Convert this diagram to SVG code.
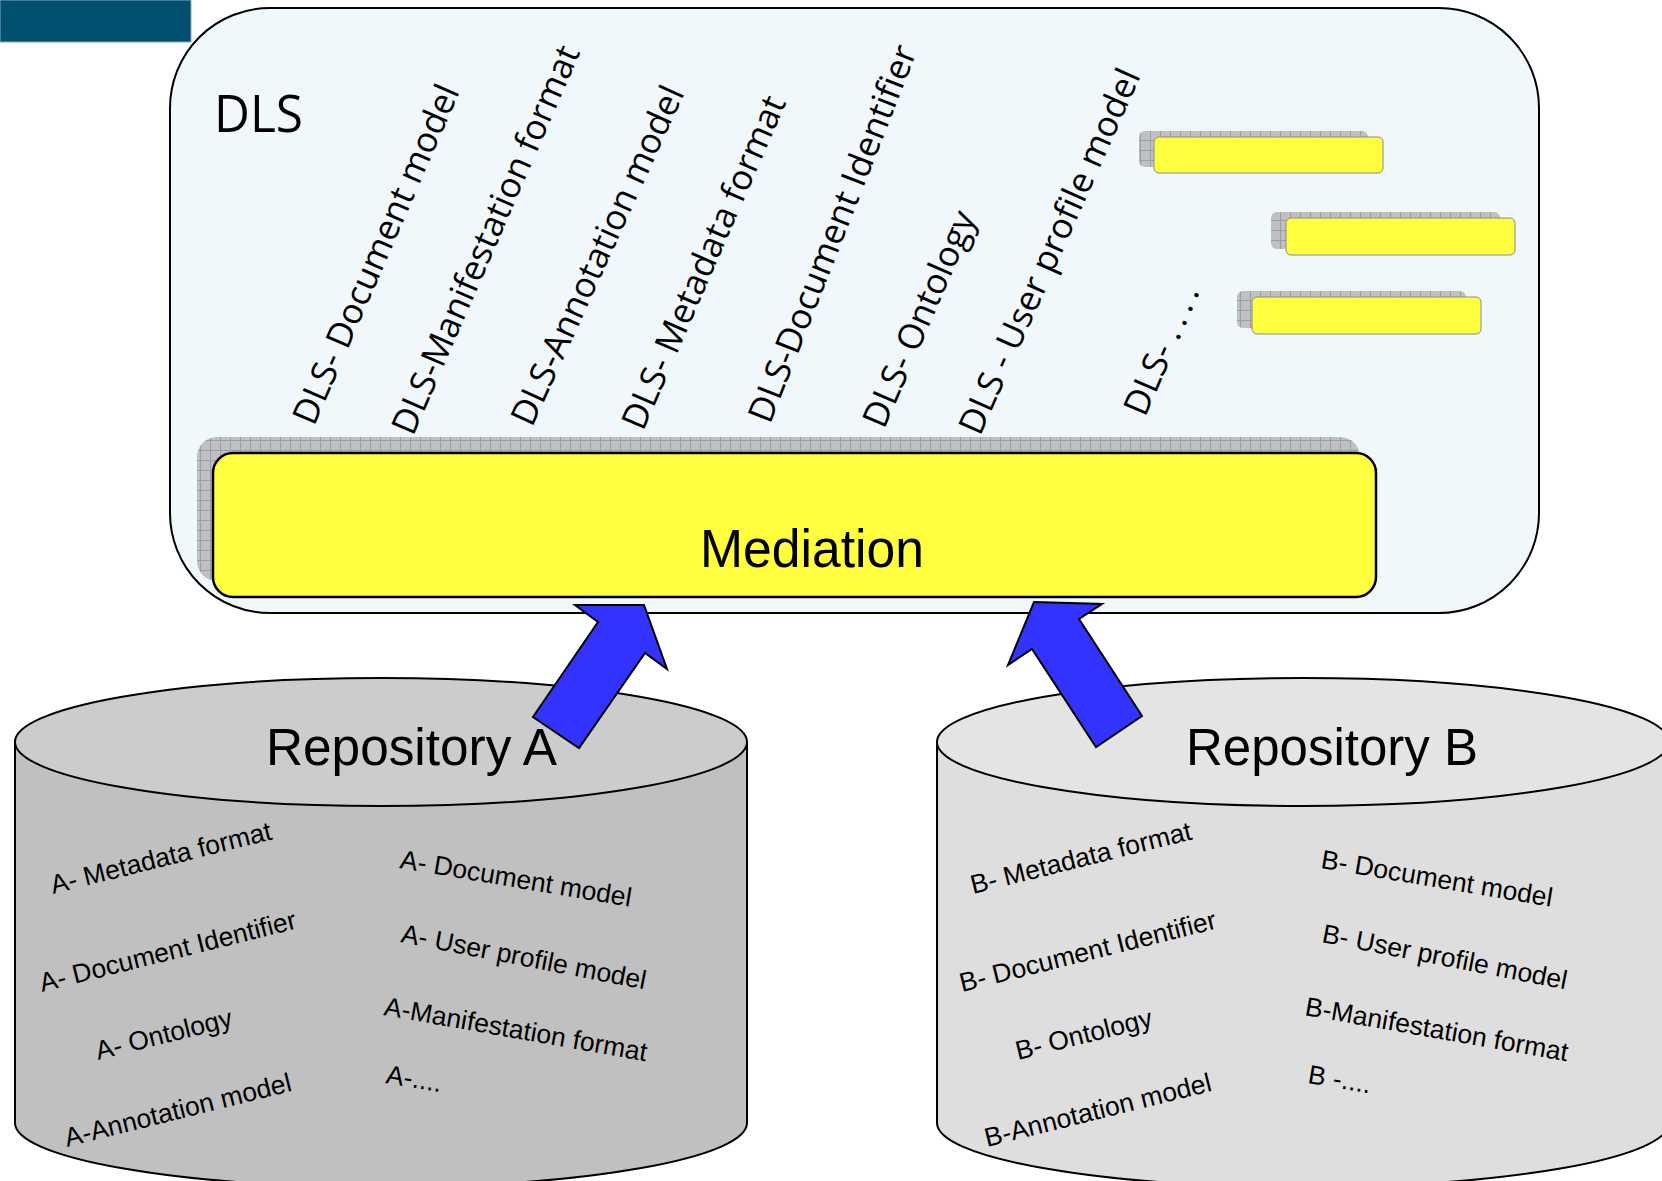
<svg xmlns="http://www.w3.org/2000/svg" width="1662" height="1181" viewBox="0 0 1662 1181">
  <defs>
    <!-- gridded grey fill used for the drop shadows -->
    <pattern id="grid" width="10" height="10" patternUnits="userSpaceOnUse">
      <rect width="10" height="10" fill="#BEC0C3"/>
      <path d="M0 0.5H10M0.5 0V10" stroke="#9C9EA0" stroke-width="1"/>
    </pattern>
    <style>
      .frame { fill: #F0F8FC; stroke: #000; stroke-width: 2; }
      .shadow { fill: url(#grid); }
      .mediation { fill: #FFFF40; stroke: #000; stroke-width: 2.5; }
      .slot { fill: #FFFF40; stroke: #8C8C8C; stroke-width: 1; }
      .cyl { stroke: #000; stroke-width: 2; }
      .arrow { fill: #3333FF; stroke: #000; stroke-width: 2; stroke-linejoin: miter; }
      .title { font-family: "Liberation Sans", Arial, sans-serif; fill: #000; }
      .dls { font-family: "Open Sans", "Noto Sans", sans-serif; fill: #000; }
      .item { font-family: "Liberation Sans", Arial, sans-serif; font-size: 26.5px; fill: #000; }
      .rot { font-family: "Open Sans", "Noto Sans", sans-serif; font-size: 35px; fill: #000; }
    </style>
  </defs>

  <rect width="1662" height="1181" fill="#FFFFFF"/>

  <!-- corner band -->
  <rect id="corner-band" x="0" y="0" width="191" height="42" fill="#02506F" stroke="#8FA5B0" stroke-width="1"/>

  <!-- DLS container -->
  <g id="dls">
    <rect class="frame" x="170" y="8" width="1369" height="605" rx="100" ry="100"/>
    <text class="dls" x="214" y="132" font-size="51" textLength="89" lengthAdjust="spacingAndGlyphs">DLS</text>
    <g id="dls-labels">
      <text class="rot" transform="translate(314,427) rotate(-66.5)">DLS- Document model</text>
      <text class="rot" transform="translate(413,437) rotate(-66.5)">DLS-Manifestation format</text>
      <text class="rot" transform="translate(532,428) rotate(-65.5)">DLS-Annotation model</text>
      <text class="rot" transform="translate(643,432) rotate(-66.5)">DLS- Metadata format</text>
      <text class="rot" transform="translate(770,425) rotate(-68.5)">DLS-Document Identifier</text>
      <text class="rot" transform="translate(884,430) rotate(-66.5)">DLS- Ontology</text>
      <text class="rot" transform="translate(980,437) rotate(-66)">DLS - User profile model</text>
      <text class="rot" transform="translate(1145,418) rotate(-66.5)">DLS- <tspan letter-spacing="6">....</tspan></text>
    </g>
  </g>

  <!-- empty slots -->
  <g id="slot-1">
    <rect class="shadow" x="1139" y="131" width="229" height="36" rx="6"/>
    <rect class="slot" x="1154" y="137" width="229" height="36" rx="5"/>
  </g>
  <g id="slot-2">
    <rect class="shadow" x="1271" y="212" width="229" height="37" rx="6"/>
    <rect class="slot" x="1286" y="218" width="229" height="37" rx="5"/>
  </g>
  <g id="slot-3">
    <rect class="shadow" x="1237" y="291" width="229" height="37" rx="6"/>
    <rect class="slot" x="1252" y="297" width="229" height="37" rx="5"/>
  </g>

  <!-- Mediation layer -->
  <g id="mediation">
    <rect class="shadow" x="197" y="437" width="1163" height="144" rx="20"/>
    <rect class="mediation" x="213" y="453" width="1163" height="144" rx="20"/>
    <text class="title" x="700" y="567" font-size="53" textLength="224" lengthAdjust="spacingAndGlyphs">Mediation</text>
  </g>

  <!-- Repository A -->
  <g id="repository-a">
    <path class="cyl" fill="#C0C0C0" d="M15,742 L15,1123 A366,64 0 0 0 747,1123 L747,742 Z"/>
    <ellipse class="cyl" fill="#CCCCCC" cx="381" cy="742" rx="366" ry="64"/>
    <text class="title" x="266" y="765" font-size="51" textLength="291" lengthAdjust="spacingAndGlyphs">Repository A</text>
    <text class="item" transform="translate(53,894) rotate(-14)">A- Metadata format</text>
    <text class="item" transform="translate(42,992) rotate(-14)">A- Document Identifier</text>
    <text class="item" transform="translate(98,1060) rotate(-14)">A- Ontology</text>
    <text class="item" transform="translate(67,1147) rotate(-14)">A-Annotation model</text>
    <text class="item" transform="translate(399,868) rotate(9.5)">A- Document model</text>
    <text class="item" transform="translate(400,942) rotate(11)">A- User profile model</text>
    <text class="item" transform="translate(383,1015) rotate(10)">A-Manifestation format</text>
    <text class="item" transform="translate(385,1083) rotate(9.5)">A-....</text>
  </g>

  <!-- Repository B -->
  <g id="repository-b">
    <path class="cyl" fill="#DEDEDE" d="M937,742 L937,1123 A366,64 0 0 0 1669,1123 L1669,742 Z"/>
    <ellipse class="cyl" fill="#E4E4E4" cx="1303" cy="742" rx="366" ry="64"/>
    <text class="title" x="1186" y="765" font-size="51" textLength="292" lengthAdjust="spacingAndGlyphs">Repository B</text>
    <text class="item" transform="translate(973,894) rotate(-14)">B- Metadata format</text>
    <text class="item" transform="translate(962,992) rotate(-14)">B- Document Identifier</text>
    <text class="item" transform="translate(1018,1060) rotate(-14)">B- Ontology</text>
    <text class="item" transform="translate(987,1147) rotate(-14)">B-Annotation model</text>
    <text class="item" transform="translate(1320,868) rotate(9.5)">B- Document model</text>
    <text class="item" transform="translate(1321,942) rotate(11)">B- User profile model</text>
    <text class="item" transform="translate(1304,1015) rotate(10)">B-Manifestation format</text>
    <text class="item" transform="translate(1307,1083) rotate(9.5)">B -....</text>
  </g>

  <!-- connectors: block arrows from the repositories up into Mediation -->
  <g id="connectors">
    <polygon id="arrow-a" class="arrow" points="575,605 644,605 667,669 645,653 579,748 533,717 598,622"/>
    <polygon id="arrow-b" class="arrow" points="1034,602 1102,604 1079,619 1142,716 1096,747 1032,649 1008,665"/>
  </g>
</svg>
